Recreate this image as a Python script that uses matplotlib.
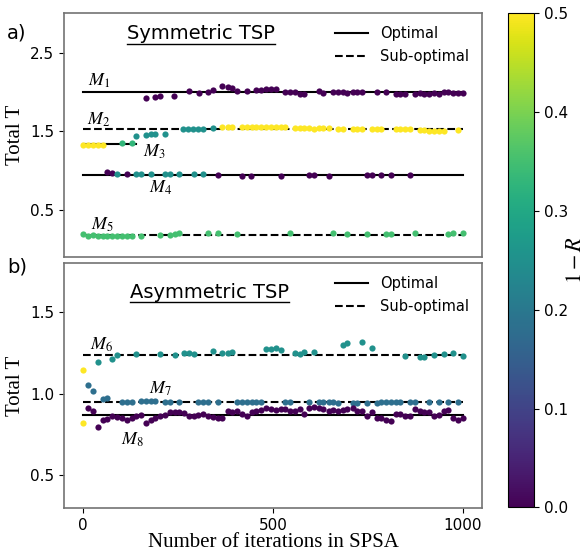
import matplotlib
matplotlib.use("Agg")
import matplotlib.pyplot as plt
import matplotlib.cm as cm
from matplotlib.colors import Normalize
from matplotlib.lines import Line2D

plt.rcParams['mathtext.fontset'] = 'stix'

# ---- Symmetric TSP: total T along SPSA iterations ----
# optimal / sub-optimal levels
m1_level, m2_level, m3_level, m4_level, m5_level = 2.0, 1.52, 1.33, 0.943, 0.175
m3_end = 140

m1_iter = [165, 189, 203, 240, 279, 305, 330, 343, 367, 381, 392, 406, 431, 455, 468, 481,
           494, 507, 532, 545, 557, 570, 582, 621, 633, 659, 671, 684, 696, 710, 722, 734,
           773, 798, 823, 835, 848, 873, 886, 898, 911, 924, 937, 949, 962, 975, 988, 1001]
m1_T = [1.92, 1.934, 1.943, 1.95, 2.015, 1.985, 2.0, 2.02, 2.07, 2.06, 2.05, 2.015, 2.015, 2.017,
        2.025, 2.035, 2.03, 2.03, 2.002, 2.002, 2.002, 1.977, 1.977, 2.01, 1.985, 1.993, 1.993,
        1.993, 1.985, 1.993, 1.993, 2.002, 2.002, 1.998, 1.977, 1.977, 1.977, 1.977, 1.985, 1.977,
        1.977, 1.985, 1.977, 2.002, 2.002, 1.985, 1.985, 1.985]
m1_r = 0.0

m2a_iter = [140, 165, 178, 190, 216, 264, 277, 290, 303, 317, 342]
m2a_T = [1.437, 1.449, 1.462, 1.462, 1.462, 1.52, 1.52, 1.52, 1.52, 1.52, 1.534]
m2a_r = 0.25

m2b_iter = [367, 381, 393, 418, 431, 444, 456, 468, 481, 494, 507, 520, 533, 557, 570, 582,
            595, 608, 621, 633, 647, 672, 684, 710, 722, 734, 760, 773, 785, 823, 835, 848,
            860, 886, 898, 911, 924, 937, 949, 988]
m2b_T = [1.55, 1.55, 1.55, 1.55, 1.55, 1.55, 1.55, 1.55, 1.55, 1.547, 1.547, 1.547, 1.547,
         1.543, 1.543, 1.543, 1.543, 1.53, 1.534, 1.534, 1.534, 1.527, 1.527, 1.53, 1.53, 1.53,
         1.52, 1.52, 1.52, 1.53, 1.53, 1.53, 1.53, 1.515, 1.509, 1.505, 1.505, 1.505, 1.5, 1.512]
m2b_r = 0.5

m3a_iter = [0, 13, 26, 40, 53]
m3a_T = [1.327, 1.327, 1.327, 1.327, 1.327]
m3a_r = 0.5

m3b_iter = [103, 128]
m3b_T = [1.352, 1.352]
m3b_r = 0.33

m4a_iter = [64, 77, 115, 355, 418, 443, 520, 595, 608, 647, 747, 760, 785, 811, 860]
m4a_T = [0.977, 0.968, 0.952, 0.943, 0.934, 0.934, 0.934, 0.943, 0.943, 0.934, 0.943, 0.943,
         0.943, 0.943, 0.943]
m4a_r = 0.0

m4b_iter = [90, 140, 153, 178, 216, 229, 254, 292, 317]
m4b_T = [0.956, 0.952, 0.952, 0.952, 0.952, 0.952, 0.952, 0.952, 0.952]
m4b_r = 0.25

m5_iter = [1, 14, 26, 39, 52, 64, 77, 90, 103, 115, 128, 153, 204, 229, 241, 254, 330, 355,
           406, 545, 659, 696, 747, 797, 811, 873, 962, 975, 1001]
m5_T = [0.184, 0.167, 0.175, 0.167, 0.158, 0.158, 0.158, 0.158, 0.158, 0.158, 0.158, 0.158,
        0.175, 0.18, 0.192, 0.2, 0.2, 0.2, 0.195, 0.205, 0.2, 0.192, 0.184, 0.184, 0.192, 0.205,
        0.192, 0.2, 0.205]
m5_r = 0.35

# ---- Asymmetric TSP ----
m6_level, m7_level, m8_level = 1.238, 0.951, 0.872

start_iter = [0, 0]
start_T = [1.142, 0.821]
start_r = 0.5

m6_iter = [39, 77, 90, 140, 204, 241, 267, 279, 292, 342, 367, 381, 393, 481, 494, 507, 520,
           557, 570, 582, 608, 684, 696, 734, 760, 848, 886, 898, 924, 949, 975, 1001]
m6_T = [1.195, 1.211, 1.234, 1.24, 1.242, 1.238, 1.246, 1.246, 1.242, 1.258, 1.248, 1.25, 1.252,
        1.272, 1.274, 1.276, 1.264, 1.246, 1.244, 1.252, 1.254, 1.297, 1.309, 1.313, 1.276,
        1.228, 1.224, 1.221, 1.238, 1.244, 1.248, 1.23]
m6_r = 0.25

m7_iter = [14, 26, 52, 64, 103, 115, 128, 153, 166, 178, 190, 216, 229, 254, 304, 317, 330,
           355, 405, 418, 431, 444, 456, 468, 533, 545, 595, 621, 633, 647, 659, 672, 710, 722,
           747, 773, 785, 798, 811, 823, 835, 860, 873, 911, 937, 962, 988]
m7_T = [1.053, 1.016, 0.965, 0.973, 0.951, 0.951, 0.951, 0.957, 0.957, 0.957, 0.957, 0.951,
        0.951, 0.947, 0.951, 0.951, 0.951, 0.951, 0.951, 0.951, 0.951, 0.951, 0.951, 0.951,
        0.949, 0.949, 0.949, 0.949, 0.949, 0.949, 0.949, 0.945, 0.945, 0.945, 0.945, 0.945,
        0.949, 0.949, 0.949, 0.949, 0.949, 0.951, 0.951, 0.949, 0.949, 0.951, 0.951]
m7_r = 0.18

m8_iter = [14, 26, 39, 52, 64, 77, 90, 103, 115, 128, 140, 153, 166, 178, 190, 204, 216, 229,
           241, 254, 267, 279, 292, 304, 317, 330, 342, 355, 367, 381, 393, 405, 418, 431, 444,
           456, 468, 481, 494, 507, 520, 533, 545, 557, 570, 582, 595, 608, 621, 633, 647, 659,
           672, 684, 696, 710, 722, 734, 747, 760, 773, 785, 798, 811, 823, 835, 848, 860, 873,
           886, 898, 911, 924, 937, 949, 962, 975, 988, 1001]
m8_T = [0.909, 0.896, 0.795, 0.841, 0.845, 0.866, 0.856, 0.85, 0.841, 0.85, 0.866, 0.87, 0.821,
        0.841, 0.852, 0.866, 0.87, 0.886, 0.89, 0.886, 0.882, 0.866, 0.862, 0.87, 0.876, 0.866,
        0.856, 0.852, 0.85, 0.896, 0.89, 0.896, 0.876, 0.866, 0.89, 0.896, 0.9, 0.91,
        0.905, 0.9, 0.905, 0.905, 0.896, 0.896, 0.905, 0.878, 0.91, 0.917, 0.909, 0.905, 0.896,
        0.9, 0.896, 0.9, 0.905, 0.91, 0.896, 0.896, 0.866, 0.886, 0.85, 0.85, 0.841, 0.835,
        0.878, 0.878, 0.866, 0.866, 0.907, 0.896, 0.886, 0.886, 0.866, 0.87, 0.896, 0.9, 0.85,
        0.841, 0.85]
m8_r = 0.0

cmap = cm.viridis
norm = Normalize(0, 0.5)
n_iter = 1000


def scatter_group(ax, xs, ys, r):
    ax.scatter(xs, ys, s=20, color=cmap(norm(r)), zorder=3, linewidths=0)


def underline_title(fig, ax, text, x, y):
    t = ax.text(x, y, text, transform=ax.transAxes, ha='center', va='center',
                fontsize=14, family='DejaVu Sans')
    fig.canvas.draw()
    bb = t.get_window_extent().transformed(ax.transAxes.inverted())
    ax.add_line(Line2D([bb.x0, bb.x1], [bb.y0 - 0.004, bb.y0 - 0.004], transform=ax.transAxes,
                       color='black', lw=1.0))


def style_axes(ax):
    for sp in ax.spines.values():
        sp.set_edgecolor('0.45')
        sp.set_linewidth(1.2)
    ax.tick_params(labelsize=11)
    ax.set_ylabel('Total T', family='Liberation Serif', fontsize=15, labelpad=4)


fig = plt.figure(figsize=(5.87, 5.51), dpi=100)
ax1 = fig.add_axes([0.109, 0.534, 0.712, 0.442])
ax2 = fig.add_axes([0.109, 0.078, 0.712, 0.445])
cax = fig.add_axes([0.866, 0.079, 0.044, 0.897])

# top panel
ax1.plot([0, n_iter], [m1_level] * 2, color='black', lw=1.5, zorder=2)
ax1.plot([0, n_iter], [m2_level] * 2, color='black', lw=1.5, ls='--', zorder=2)
ax1.plot([0, m3_end], [m3_level] * 2, color='black', lw=1.5, zorder=2)
ax1.plot([0, n_iter], [m4_level] * 2, color='black', lw=1.5, zorder=2)
ax1.plot([0, n_iter], [m5_level] * 2, color='black', lw=1.5, ls='--', zorder=2)

scatter_group(ax1, m1_iter, m1_T, m1_r)
scatter_group(ax1, m2a_iter, m2a_T, m2a_r)
scatter_group(ax1, m2b_iter, m2b_T, m2b_r)
scatter_group(ax1, m3a_iter, m3a_T, m3a_r)
scatter_group(ax1, m3b_iter, m3b_T, m3b_r)
scatter_group(ax1, m4a_iter, m4a_T, m4a_r)
scatter_group(ax1, m4b_iter, m4b_T, m4b_r)
scatter_group(ax1, m5_iter, m5_T, m5_r)

for lbl, x, y in [('$M_1$', 42, 2.145), ('$M_2$', 42, 1.64), ('$M_3$', 187, 1.234),
                  ('$M_4$', 205, 0.78), ('$M_5$', 50, 0.31)]:
    ax1.text(x, y, lbl, fontsize=13, ha='center', va='center')

ax1.set_xlim(-50, 1050)
ax1.set_ylim(-0.1, 3.0)
ax1.set_yticks([0.5, 1.5, 2.5])
ax1.tick_params(axis='x', length=0, labelbottom=False)
style_axes(ax1)

# bottom panel
ax2.plot([0, n_iter], [m6_level] * 2, color='black', lw=1.5, ls='--', zorder=2)
ax2.plot([0, n_iter], [m7_level] * 2, color='black', lw=1.5, ls='--', zorder=2)
ax2.plot([0, n_iter], [m8_level] * 2, color='black', lw=1.5, zorder=2)

scatter_group(ax2, start_iter, start_T, start_r)
scatter_group(ax2, m6_iter, m6_T, m6_r)
scatter_group(ax2, m7_iter, m7_T, m7_r)
scatter_group(ax2, m8_iter, m8_T, m8_r)

for lbl, x, y in [('$M_6$', 50, 1.30), ('$M_7$', 205, 1.03), ('$M_8$', 130, 0.72)]:
    ax2.text(x, y, lbl, fontsize=13, ha='center', va='center')

ax2.set_xlim(-50, 1050)
ax2.set_ylim(0.3, 1.8)
ax2.set_yticks([0.5, 1.0, 1.5])
ax2.set_xticks([0, 500, 1000])
ax2.set_xlabel('Number of iterations in SPSA', family='Liberation Serif', fontsize=15, labelpad=0)
style_axes(ax2)

# legends
handles = [Line2D([], [], color='black', lw=1.5), Line2D([], [], color='black', lw=1.5, ls='--')]
for ax in (ax1, ax2):
    ax.legend(handles, ['Optimal', 'Sub-optimal'], loc='upper right', frameon=False,
              fontsize=10.5, handlelength=2.3, borderaxespad=0.5, labelspacing=0.55)

fig.text(0.012, 0.94, 'a)', fontsize=14, va='center')
fig.text(0.012, 0.515, 'b)', fontsize=14, va='center')

underline_title(fig, ax1, 'Symmetric TSP', 0.328, 0.918)
underline_title(fig, ax2, 'Asymmetric TSP', 0.347, 0.881)

# colour bar
sm = cm.ScalarMappable(norm=norm, cmap=cmap)
cb = fig.colorbar(sm, cax=cax, ticks=[0.0, 0.1, 0.2, 0.3, 0.4, 0.5])
cb.ax.tick_params(labelsize=11)
cb.set_label('$1-R$', fontsize=16)
cb.ax.yaxis.set_label_coords(2.2, 0.5)

fig.savefig('out.png', dpi=100)
